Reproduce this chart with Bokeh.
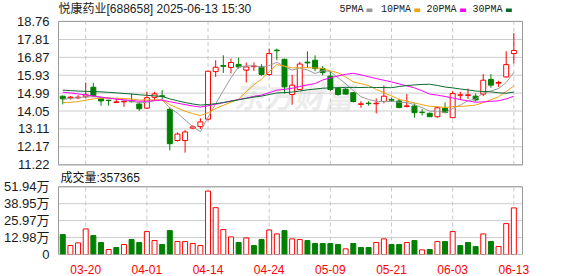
import numpy as np
from bokeh.plotting import figure
from bokeh.models import Range1d, FixedTicker, ColumnDataSource
from bokeh.core.properties import value
from bokeh.embed import file_html
from bokeh.resources import INLINE

# ---------------- data ----------------
dates = ["03-17","03-18","03-19","03-20","03-21","03-24","03-25","03-26","03-27","03-28","03-31",
         "04-01","04-02","04-03","04-07","04-08","04-09","04-10","04-11","04-14","04-15","04-16",
         "04-17","04-18","04-21","04-22","04-23","04-24","04-25","04-28","04-29","04-30",
         "05-06","05-07","05-08","05-09","05-12","05-13","05-14","05-15","05-16","05-19","05-20",
         "05-21","05-22","05-23","05-26","05-27","05-28","05-29","05-30",
         "06-03","06-04","06-05","06-06","06-09","06-10","06-11","06-12","06-13"]

opens = [14.83,14.74,14.74,14.80,15.30,14.72,14.62,14.50,14.53,14.56,14.42,
         14.20,14.77,14.85,14.14,12.50,12.50,13.15,13.23,13.62,16.12,16.44,
         16.34,16.50,16.20,16.38,16.37,15.97,17.25,16.77,14.92,15.18,
         16.62,16.72,16.28,15.88,15.23,15.20,15.01,14.40,14.46,14.43,14.55,
         14.66,14.58,14.29,14.31,13.99,13.93,13.75,14.19,
         13.70,14.88,14.87,14.83,14.94,15.71,15.51,15.84,17.07]
highs = [14.86,14.84,14.88,15.55,15.53,14.78,14.63,14.71,14.60,14.97,14.54,
         15.05,15.06,15.15,14.27,12.92,13.05,13.30,13.67,16.16,16.72,16.98,
         16.81,16.86,16.60,16.60,16.51,17.33,17.33,16.80,15.95,16.63,
         17.19,16.98,16.42,16.10,15.30,15.25,15.05,14.57,14.57,14.71,15.40,
         14.76,14.70,14.94,14.45,14.14,13.97,14.28,14.50,
         15.09,15.06,15.23,14.97,15.99,15.99,15.64,17.19,18.15]
lows = [14.40,14.65,14.68,14.72,14.80,14.33,14.33,14.49,14.27,14.50,14.06,
        14.17,14.60,14.66,11.98,12.45,11.86,13.10,13.11,13.55,15.84,16.05,
        16.02,16.28,15.55,16.16,15.90,15.90,16.72,14.97,14.38,15.15,
        16.32,16.14,15.93,15.10,14.85,14.90,14.50,14.22,14.33,13.93,14.45,
        14.52,14.20,14.24,13.70,13.82,13.74,13.70,13.93,
        13.70,14.62,14.68,14.55,14.83,15.27,15.32,15.80,16.55]
closes = [14.69,14.78,14.78,14.90,14.85,14.58,14.60,14.53,14.56,14.54,14.17,
          14.75,14.95,14.82,12.33,12.84,12.95,13.22,13.48,16.14,16.35,16.40,
          16.60,16.37,16.37,16.42,15.97,17.07,17.22,15.32,15.41,16.52,
          16.58,16.28,16.07,15.18,14.92,14.94,14.55,14.43,14.44,14.46,14.83,
          14.62,14.23,14.32,13.96,13.97,13.75,14.22,13.98,
          14.97,14.90,14.90,14.63,15.67,15.41,15.55,16.49,17.23]
volumes = [152800,68700,89100,196000,145000,91700,38200,53500,76400,114600,91700,
           175700,106900,76400,183300,99300,99300,84000,68700,486300,359000,191000,
           135000,91700,127300,68700,114600,188400,157900,183300,119700,114600,
           106900,84000,84000,84000,76400,43300,84000,53500,53500,91700,119700,
           76400,76400,91700,106900,35600,38200,99300,99300,
           175700,68700,91700,61100,157900,99300,61100,236800,357365]
# 1 = red (up) volume bar, 0 = green (down)
vol_up = [0,1,1,1,0,0,1,0,1,0,0,
          1,1,0,0,1,1,1,1,1,1,1,
          1,0,1,0,0,1,1,0,1,1,
          0,0,0,0,0,1,0,0,0,1,1,
          0,0,1,0,1,0,1,0,
          1,0,0,0,1,0,1,1,1]
# closes of the 29 sessions before the visible window (estimated from MA levels)
prior_closes = [15.6,15.5,15.3,15.2,15.1,15.3,15.4,15.5,15.4,15.4,
                15.6,15.8,15.9,16.0,15.8,15.7,15.5,15.3,15.2,15.0,
                14.7,14.4,14.2,14.1,14.3,
                14.5,14.6,14.7,14.8]

price_ticks = [11.22, 12.17, 13.11, 14.05, 14.99, 15.93, 16.87, 17.81, 18.76]
vol_ticks = [0, 129850, 259700, 389550, 519400]
vol_tick_labels = ["0", "12.98万", "25.97万", "38.95万", "51.94万"]
date_tick_idx = [3, 11, 19, 27, 35, 43, 51, 59]
ma_periods = [5, 10, 20, 30]
ma_names = ["5PMA", "10PMA", "20PMA", "30PMA"]
title_text = "悦康药业[688658] 2025-06-13 15:30"
vol_caption = "成交量:%d" % volumes[-1]

# ---------------- layout / styles ----------------
RED = "#ff0000"
GREEN = "#008000"
MA_COLORS = ["#9a9a9a", "#f2a20c", "#ff00ff", "#0a6b2e"]
BORDER = "#999999"
GRID = "#cccccc"
FONT = "Liberation Sans, Noto Sans CJK SC"
W, H = 578, 276
FL, FR, FB = 55, 523, 255          # frame left / right / bottom (pixels)
PX_STEP = 7.678                    # pixels per session
X0_PX = 60.3                       # pixel of the first session
PANEL_L, PANEL_R = 56, 522         # panel box edges (pixels)
PRICE_TOP, PRICE_BOT = 21, 165     # price panel (pixels)
VOL_TOP = 187                      # volume panel top (pixels); bottom = FB

def px_to_x(px):
    return (px - X0_PX) / PX_STEP

p_lo, p_hi = price_ticks[0], price_ticks[-1]
p_per_px = (p_hi - p_lo) / (PRICE_BOT - PRICE_TOP)
v_per_px = vol_ticks[-1] / (FB - VOL_TOP)

x_range = Range1d(px_to_x(FL), px_to_x(FR))
y_range = Range1d(p_lo - (FB - PRICE_BOT) * p_per_px, p_hi + PRICE_TOP * p_per_px)
vol_range = Range1d(0, FB * v_per_px)

def vol_to_primary(vv):
    f = (vv - vol_range.start) / (vol_range.end - vol_range.start)
    return y_range.start + f * (y_range.end - y_range.start)

N = len(closes)
xs = np.arange(N)
o = np.array(opens); c = np.array(closes)
up = c >= o
full = np.array(prior_closes + closes)
n0 = len(prior_closes)
mas = {n: [full[n0 + i - n + 1:n0 + i + 1].mean() for i in range(N)] for n in ma_periods}

src = ColumnDataSource(dict(
    x=xs, h=highs, l=lows,
    top=np.maximum(o, c), bottom=np.minimum(o, c),
    color=[RED if u else GREEN for u in up],
    fill=["#ffffff" if u else GREEN for u in up],
    vol=volumes,
    vcolor=[RED if u else GREEN for u in vol_up],
    vfill=["#ffffff" if u else GREEN for u in vol_up],
))

p = figure(width=W, height=H, x_range=x_range, y_range=y_range, toolbar_location=None,
           output_backend="svg", min_border_left=FL, min_border_right=W - FR,
           min_border_top=0, min_border_bottom=H - FB)
p.extra_y_ranges = {"vol": vol_range, "py": Range1d(FB, 0)}
p.extra_x_ranges = {"px": Range1d(FL, FR)}
p.outline_line_color = None
p.grid.visible = False
p.background_fill_color = "#ffffff"
p.border_fill_color = "#ffffff"

xl, xr = px_to_x(PANEL_L), px_to_x(PANEL_R)

# watermark
wm = p.text(x=[232], y=[95], text=["东方财富"], x_range_name="px", y_range_name="py",
            text_font=value("Noto Sans CJK SC"), text_font_size="30px",
            text_font_style="bold italic", text_color="#ececec", text_baseline="middle")
wm.level = "underlay"

# grid lines (inside the two panels only)
n_pt = len(price_ticks)
g1 = p.segment(x0=[xl] * n_pt, y0=price_ticks, x1=[xr] * n_pt, y1=price_ticks, line_color=GRID, line_width=1)
n_vt = len(vol_ticks)
g2 = p.segment(x0=[xl] * n_vt, y0=vol_ticks, x1=[xr] * n_vt, y1=vol_ticks, line_color=GRID,
               line_width=1, y_range_name="vol")
n_dt = len(date_tick_idx)
g3 = p.segment(x0=date_tick_idx, y0=[p_lo] * n_dt, x1=date_tick_idx, y1=[p_hi] * n_dt,
               line_color="#c8c8c8", line_width=1, line_dash="4 3")
g4 = p.segment(x0=date_tick_idx, y0=[vol_ticks[0]] * n_dt, x1=date_tick_idx, y1=[vol_ticks[-1]] * n_dt,
               line_color="#c8c8c8", line_width=1, line_dash="4 3", y_range_name="vol")
for g in (g1, g2, g3, g4):
    g.level = "underlay"

# candles
p.segment(x0="x", y0="h", x1="x", y1="l", line_color="color", line_width=1, source=src)
p.vbar(x="x", width=0.65, top="top", bottom="bottom", fill_color="fill", line_color="color",
       line_width=1, source=src)
for n, col in zip(ma_periods, MA_COLORS):
    p.line(xs, mas[n], line_color=col, line_width=1)

# volume
p.vbar(x="x", width=0.65, top="vol", bottom=0, fill_color="vfill", line_color="vcolor",
       line_width=1, source=src, y_range_name="vol")

# panel borders
p.quad(left=[xl], right=[xr], bottom=[p_lo], top=[p_hi], fill_color=None, line_color=BORDER, line_width=1)
p.quad(left=[xl], right=[xr], bottom=[vol_ticks[0]], top=[vol_ticks[-1]], fill_color=None,
       line_color=BORDER, line_width=1, y_range_name="vol")

# header: title and MA legend; volume caption
p.text(x=[56], y=[8.8], text=[title_text], x_range_name="px", y_range_name="py",
       text_font=value(FONT), text_font_size="12px", text_baseline="middle",
       text_align="left", text_color="#222222")
leg_text_x = [338.3, 380.0, 425.7, 471.7]
leg_rect_x = [368.3, 416.3, 462.3, 508.3]
p.text(x=leg_text_x, y=[9.3] * 4, text=ma_names, x_range_name="px", y_range_name="py",
       text_font=value("Liberation Mono"), text_font_size="10px", text_baseline="middle",
       text_align="left", text_color="#222222")
p.rect(x=leg_rect_x, y=[9.7] * 4, width=6, height=3.5, fill_color=MA_COLORS, line_color=None,
       x_range_name="px", y_range_name="py")
p.text(x=[58], y=[178], text=[vol_caption], x_range_name="px", y_range_name="py",
       text_font=value(FONT), text_font_size="12px", text_baseline="middle",
       text_align="left", text_color="#111111")

# left axis: price ticks for the upper panel, volume ticks for the lower panel
vol_tick_pos = [vol_to_primary(t) for t in vol_ticks]
overrides = {t: "%.2f" % t for t in price_ticks}
overrides.update(dict(zip(vol_tick_pos, vol_tick_labels)))
p.yaxis.ticker = FixedTicker(ticks=price_ticks + vol_tick_pos)
p.yaxis.major_label_overrides = overrides
for ax in p.yaxis:
    ax.axis_line_color = None
    ax.major_tick_line_color = None
    ax.minor_tick_line_color = None
    ax.major_label_standoff = 2
    ax.major_label_text_font = FONT
    ax.major_label_text_font_size = "13px"
    ax.major_label_text_color = "#1a1a1a"

p.xaxis.ticker = FixedTicker(ticks=date_tick_idx)
p.xaxis.major_label_overrides = {i: dates[i] for i in date_tick_idx}
for ax in p.xaxis:
    ax.axis_line_color = None
    ax.major_tick_line_color = None
    ax.minor_tick_line_color = None
    ax.major_label_standoff = 4
    ax.major_label_text_font = FONT
    ax.major_label_text_font_size = "12px"
    ax.major_label_text_color = RED

open("out.html", "w").write(file_html(p, INLINE))
